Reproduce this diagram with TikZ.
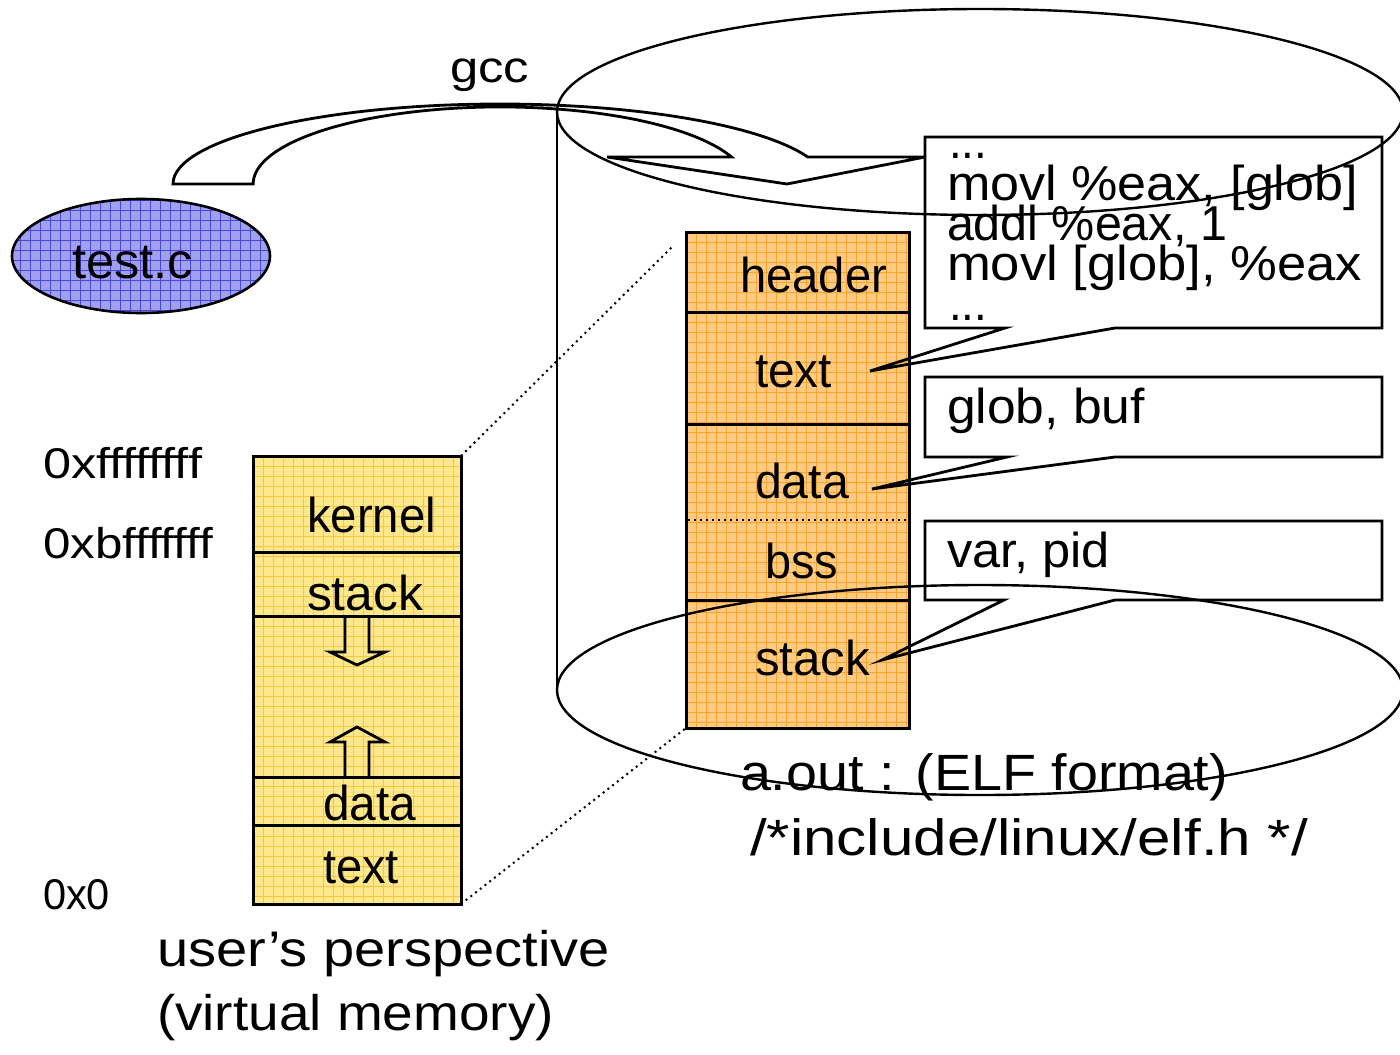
\documentclass[tikz,border=0pt]{standalone}
\usepackage{fontspec}
\setmainfont{Liberation Sans}
\usepackage{graphicx}

\definecolor{ylwfill}{HTML}{FFE78C}
\definecolor{ylwgrid}{HTML}{F5C93A}
\definecolor{orgfill}{HTML}{FFCB82}
\definecolor{orggrid}{HTML}{FAA42E}
\definecolor{bluefill}{HTML}{A0A0EE}
\definecolor{bluegrid}{HTML}{4848DC}

% set a text at a given size (pt) and stretch it to a given width (px)
\newsavebox\fitbox
\newcommand\fitx[3]{\fontsize{#1}{#1}\selectfont\sbox\fitbox{#3}%
  \pgfmathsetmacro\fitsc{(#2*0.5)/(\wd\fitbox)}%
  \scalebox{\fitsc}[1]{\usebox\fitbox}}

\tikzset{
  txt/.style={inner sep=0pt, outer sep=0pt, anchor=base west},
  boxline/.style={draw=black, line width=1.5pt, line join=miter},
  sepline/.style={draw=black, line width=1.5pt},
  calloutline/.style={draw=black, line width=1.4pt, line join=miter},
  cylline/.style={draw=black, line width=1.2pt},
  blockarrow/.style={draw=black, line width=1.4pt, line join=miter},
  zoomline/.style={draw=black, line width=1pt, dotted},
  ygrid/.style={draw=ylwgrid, line width=0.35pt},
  ogrid/.style={draw=orggrid, line width=0.35pt},
  bgrid/.style={draw=bluegrid, line width=0.35pt},
}

\begin{document}
\begin{tikzpicture}[x=0.5pt,y=-0.5pt]
\useasboundingbox (0,0) rectangle (1400,1054);

% ---------- source file ----------
\begin{scope}
  \clip (141,256) ellipse [x radius=129, y radius=57];
  \fill[bluefill] (0,190) rectangle (280,320);
  \foreach \k in {0,...,28} \draw[bgrid] ({10*\k},190) -- ({10*\k},320);
  \foreach \k in {0,...,13} \draw[bgrid] (0,{190+10*\k}) -- (280,{190+10*\k});
\end{scope}
\draw[line width=1.3pt] (141,256) ellipse [x radius=129, y radius=57];
\node[txt] (src) at (72,278) {\fitx{25}{121}{test.c}};

% ---------- virtual memory column ----------
\begin{scope}
  \clip (253,456) rectangle (461,904);
  \fill[ylwfill] (253,456) rectangle (461,904);
  \foreach \k in {0,...,21} \draw[ygrid] ({253+10*\k},456) -- ({253+10*\k},904);
  \foreach \k in {0,...,45} \draw[ygrid] (253,{456+10*\k}) -- (461,{456+10*\k});
\end{scope}
\draw[sepline] (253,552) -- (461,552);
\draw[sepline] (253,616) -- (461,616);
\draw[sepline] (253,777) -- (461,777);
\draw[sepline] (253,825) -- (461,825);
\draw[boxline] (253,456) rectangle (461,904);

% growth arrows of stack and heap
\draw[blockarrow] (345,616) -- (345,652) -- (330,652) -- (357,665) -- (385,652) -- (369,652) -- (369,616);
\draw[blockarrow] (345,777) -- (345,742) -- (330,742) -- (357,727) -- (385,742) -- (369,742) -- (369,777);

\node[txt] (vkernel) at (307,532) {\fitx{24.5}{129}{kernel}};
\node[txt] (vstack)  at (307,610) {\fitx{24.5}{116}{stack}};
\node[txt] (vdata)   at (323,820) {\fitx{24.5}{93}{data}};
\node[txt] (vtext)   at (323,883) {\fitx{24.5}{76}{text}};

\node[txt] (addrtop)  at (43,478) {\fitx{21.5}{159}{0xffffffff}};
\node[txt] (addrkern) at (43,558) {\fitx{21.5}{170}{0xbfffffff}};
\node[txt] (addrzero) at (43,909) {\fitx{21.5}{67}{0x0}};

\node[txt] (vcap1) at (157,966)  {\fitx{25}{453}{user’s perspective}};
\node[txt] (vcap2) at (157,1030) {\fitx{25}{397}{(virtual memory)}};

% ---------- ELF file column ----------
\begin{scope}
  \clip (686,232) rectangle (909,728);
  \fill[orgfill] (686,232) rectangle (909,728);
  \foreach \k in {0,...,23} \draw[ogrid] ({686+10*\k},232) -- ({686+10*\k},728);
  \foreach \k in {0,...,50} \draw[ogrid] (686,{232+10*\k}) -- (909,{232+10*\k});
\end{scope}
\draw[sepline] (686,312) -- (909,312);
\draw[sepline] (686,424) -- (909,424);
\draw[line width=1pt, dotted] (688,520) -- (907,520);
\draw[sepline] (686,600) -- (909,600);
\draw[boxline] (686,232) rectangle (909,728);

\node[txt] (eheader) at (740,292) {\fitx{24.5}{147}{header}};
\node[txt] (etext)   at (755,387) {\fitx{24.5}{77}{text}};
\node[txt] (edata)   at (755,498) {\fitx{24.5}{94}{data}};
\node[txt] (ebss)    at (765,578) {\fitx{24.5}{73}{bss}};
\node[txt] (estack)  at (755,675) {\fitx{24.5}{115}{stack}};

% zoom lines between the two columns
\coordinate (vmtop) at (461,456);
\coordinate (vmbot) at (461,904);
\coordinate (elftop) at (672,247);
\coordinate (elfbot) at (686,728);
\draw[zoomline] (vmtop) -- (elftop);
\draw[zoomline] (vmbot) -- (elfbot);

% ---------- callouts ----------
\draw[calloutline] (925,137) -- (1382,137) -- (1382,328) -- (1115,328) -- (870,371) -- (1005,328) -- (925,328) -- cycle;
\draw[calloutline] (925,377) -- (1382,377) -- (1382,457) -- (1115,457) -- (872,489) -- (1007,457) -- (925,457) -- cycle;
\draw[calloutline] (925,521) -- (1382,521) -- (1382,600) -- (1115,600) -- (882,660) -- (1004,600) -- (925,600) -- cycle;

\node[txt] (code0) at (949,158) {\fitx{24.5}{38}{...}};
\node[txt] (code1) at (947,200) {\fitx{24.5}{411}{movl \%eax, [glob]}};
\node[txt] (code2) at (947,240) {\fitx{24.5}{280}{addl \%eax, 1}};
\node[txt] (code3) at (947,280) {\fitx{24.5}{415}{movl [glob], \%eax}};
\node[txt] (code4) at (949,320) {\fitx{24.5}{38}{...}};
\node[txt] (vars1) at (947,423) {\fitx{24.5}{198}{glob, buf}};
\node[txt] (vars2) at (947,567) {\fitx{24.5}{163}{var, pid}};

% ---------- compiler arrow ----------
\node[txt] (gcc) at (450,83) {\fitx{22}{79}{gcc}};
\draw[blockarrow] (173,184) arc[start angle=180, end angle=340.3, x radius=327, y radius=80]
  -- (925,157) -- (787,184) -- (607,157) -- (731.5,157)
  arc[start angle=339.5, end angle=180, x radius=247, y radius=77] -- cycle;

% ---------- file on disk ----------
\draw[cylline] (980,112) ellipse [x radius=423, y radius=103];
\draw[cylline] (980,690) ellipse [x radius=423, y radius=105];
\draw[cylline] (557,112) -- (557,690);
\draw[cylline] (1403,112) -- (1403,690);

\node[txt] (elfcap1) at (740,790) {\fitx{25.5}{488}{a.out : (ELF format)}};
\node[txt] (elfcap2) at (750,855) {\fitx{25.5}{558}{/*include/linux/elf.h */}};
\end{tikzpicture}
\end{document}
